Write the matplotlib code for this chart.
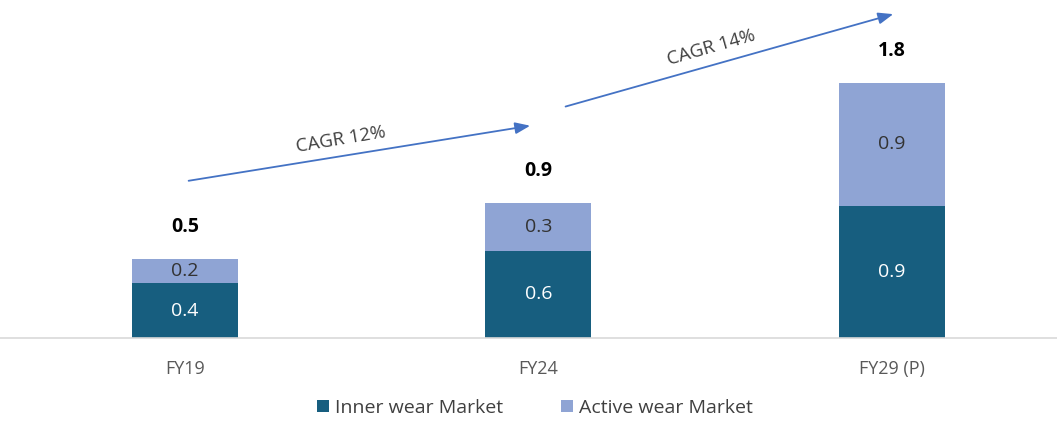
import matplotlib.pyplot as plt
import numpy as np

plt.rcParams['font.family'] = ['Open Sans', 'DejaVu Sans']

years = ['FY19', 'FY24', 'FY29 (P)']
inner = [0.39, 0.62, 0.94]
active = [0.17, 0.34, 0.87]
inner_lbl = ['0.4', '0.6', '0.9']
active_lbl = ['0.2', '0.3', '0.9']
totals_lbl = ['0.5', '0.9', '1.8']
cagr = ['CAGR 12%', 'CAGR 14%']

c_inner = '#175E7F'
c_active = '#8FA4D4'
c_arrow = '#4472C4'

fig = plt.figure(figsize=(10.57, 4.21), dpi=100)
ax = fig.add_axes([0.0, 0.197, 1.0, 0.803])

x = np.arange(len(years))
w = 0.30
ax.bar(x, inner, w, color=c_inner, label='Inner wear Market')
ax.bar(x, active, w, bottom=inner, color=c_active, label='Active wear Market')

tot = np.array(inner) + np.array(active)
for i in range(len(x)):
    ax.text(x[i], inner[i] / 2, inner_lbl[i], ha='center', va='center',
            color='white', fontsize=14)
    ax.text(x[i], inner[i] + active[i] / 2, active_lbl[i], ha='center',
            va='center', color='#333333', fontsize=14)
    ax.annotate(totals_lbl[i], (x[i], tot[i]), xytext=(0, 23),
                textcoords='offset points', ha='center', va='center',
                fontsize=14, fontweight='bold', color='black')

ax.set_xlim(-0.523, 2.467)
ax.set_ylim(0, 2.40)

# CAGR arrows (pixel positions converted to data units)
def px(a, b):
    return ((a - 185) / 353.5, (338 - b) / 141)

ax.annotate('', xy=px(533, 125), xytext=px(186, 181),
            arrowprops=dict(arrowstyle='-|>,head_length=0.9,head_width=0.35',
                            color=c_arrow, lw=1.3))
ax.annotate('', xy=px(896, 13), xytext=px(563, 107),
            arrowprops=dict(arrowstyle='-|>,head_length=0.9,head_width=0.35',
                            color=c_arrow, lw=1.3))
ax.text(*px(341, 139), cagr[0], rotation=9.5, ha='center', va='center',
        fontsize=13.5, color='#404040', rotation_mode='anchor')
ax.text(*px(711, 47), cagr[1], rotation=16, ha='center', va='center',
        fontsize=13.5, color='#404040', rotation_mode='anchor')

ax.set_xticks(x)
ax.set_xticklabels(years, fontsize=13, color='#595959')
ax.tick_params(axis='x', length=0, pad=16)
ax.set_yticks([])
for s in ['top', 'left', 'right']:
    ax.spines[s].set_visible(False)
ax.spines['bottom'].set_color('#D9D9D9')
ax.spines['bottom'].set_linewidth(1.2)

fig.legend(loc='center', bbox_to_anchor=(0.506, 0.031), ncol=2, frameon=False,
           fontsize=14, handlelength=0.6, handleheight=0.6, handletextpad=0.3,
           columnspacing=3.0, labelcolor='#404040')

plt.savefig('out.png', dpi=100)
